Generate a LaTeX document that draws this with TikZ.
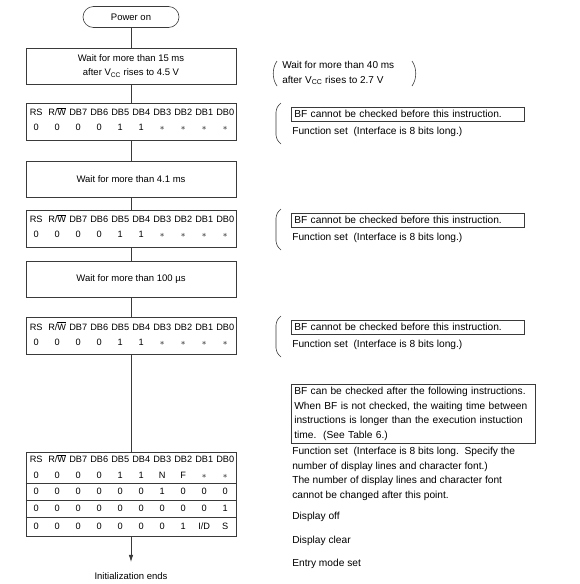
\documentclass[tikz,border=0pt]{standalone}
\usepackage{fontspec}
\setmainfont{Liberation Sans}
\usetikzlibrary{positioning,arrows.meta}
\definecolor{frame}{HTML}{3A3A3A}

% one row of bit values across a code box
\newcommand{\bitrow}[3]{%
  \foreach \v [count=\i from 0] in {#3}
    \node[bit] at ([xshift={10.5pt+21pt*\i}, yshift=-#2pt]#1.north west) {\v};}
\newcommand{\rw}{R/$\overline{\mbox{W}}$}
\newcommand{\st}{$\ast$}

\begin{document}
\begin{tikzpicture}[
    x=1pt, y=-1pt,
    font=\fontsize{9.5}{14}\selectfont,
    line width=0.6pt, draw=frame,
    term/.style={draw=frame, rounded corners=10.5pt, minimum width=96pt, minimum height=21pt},
    waitbox/.style={draw=frame, minimum width=210pt, minimum height=36pt, align=center},
    codebox/.style={draw=frame, minimum width=210pt, minimum height=37pt},
    bit/.style={inner sep=0pt, text height=7pt, text depth=1pt, font=\fontsize{9.2}{10}\selectfont},
    side/.style={font=\fontsize{10.2}{14.6}\selectfont},
    bfbox/.style={side, draw=frame, anchor=west, minimum height=14pt, inner xsep=3pt, inner ysep=1pt, text width=227pt, align=left},
    note/.style={side, anchor=west, inner sep=0pt},
    arr/.style={-{Latex[length=7pt,width=4.5pt]}, draw=frame}
]
    \useasboundingbox (0,0) rectangle (580,584);

    % main flow
    \node[term] (power) at (131,17) {Power on};
    \node[waitbox] (w15) at (131,66) {Wait for more than 15 ms\\after V\textsubscript{CC} rises to 4.5 V};
    \node[codebox] (fs1) at (131,121.5) {};
    \node[waitbox] (w41) at (131,179.5) {Wait for more than 4.1 ms};
    \node[codebox] (fs2) at (131,228.5) {};
    \node[waitbox] (w100) at (131,279.5) {Wait for more than 100 µs};
    \node[codebox] (fs3) at (131,336) {};
    \node[draw=frame, minimum width=210pt, minimum height=84pt] (init) at (131,494) {};
    \node (done) at (131,576) {Initialization ends};

    \foreach \b in {fs1,fs2,fs3} {
        \bitrow{\b}{10}{RS,\rw,DB7,DB6,DB5,DB4,DB3,DB2,DB1,DB0}
        \bitrow{\b}{25}{0,0,0,0,1,1,\st,\st,\st,\st}
    }

    \bitrow{init}{8}{RS,\rw,DB7,DB6,DB5,DB4,DB3,DB2,DB1,DB0}
    \bitrow{init}{24}{0,0,0,0,1,1,N,F,\st,\st}
    \bitrow{init}{40}{0,0,0,0,0,0,1,0,0,0}
    \bitrow{init}{57}{0,0,0,0,0,0,0,0,0,1}
    \bitrow{init}{75}{0,0,0,0,0,0,0,1,I/D,S}
    \foreach \d in {32,49,66}
        \draw ([yshift=-\d pt]init.north west) -- ([yshift=-\d pt]init.north east);

    \draw (power) -- (w15);
    \draw (w15) -- (fs1);
    \draw (fs1) -- (w41);
    \draw (w41) -- (fs2);
    \draw (fs2) -- (w100);
    \draw (w100) -- (fs3);
    \draw (fs3) -- (init);
    \draw[arr, shorten >=7pt] (init) -- (done);

    % notes on the right
    \node[anchor=west, inner sep=0pt, align=left, font=\fontsize{10}{14.6}\selectfont] (vcc) at (282,73)
        {Wait for more than 40 ms\\after V\textsubscript{CC} rises to 2.7 V};
    \draw (277,61) .. controls (272,68) and (272,79) .. (277,86);
    \draw (412,61) .. controls (417,68) and (417,79) .. (412,86);

    \foreach \g/\y in {1/103,2/209,3/316} {
        \draw (281,\y) .. controls (277,\y+4) .. (276,{\y+9}) -- (276,{\y+32}) .. controls (277,\y+37) .. (281,{\y+41});
        \node[bfbox] (bf\g) at (291,{\y+11}) {BF cannot be checked before this instruction.};
        \node[note] (fn\g) at (292,{\y+29}) {Function set\ \ (Interface is 8 bits long.)};
    }

    \node[side, draw=frame, anchor=north west, inner sep=3pt, text width=238pt, align=left] (bfok) at (291,384)
        {BF can be checked after the following instructions.\\When BF is not checked, the waiting time between\\instructions is longer than the execution instuction\\time.\ \ (See Table 6.)};
    \node[side, anchor=north west, inner sep=0pt, align=left] (fnset) at (292,447)
        {Function set\ \ (Interface is 8 bits long.\ \ Specify the\\number of display lines and character font.)\\The number of display lines and character font\\cannot be changed after this point.};
    \node[note] (doff) at (292,517) {Display off};
    \node[note] (dclr) at (292,541) {Display clear};
    \node[note] (emode) at (292,564) {Entry mode set};
\end{tikzpicture}
\end{document}
